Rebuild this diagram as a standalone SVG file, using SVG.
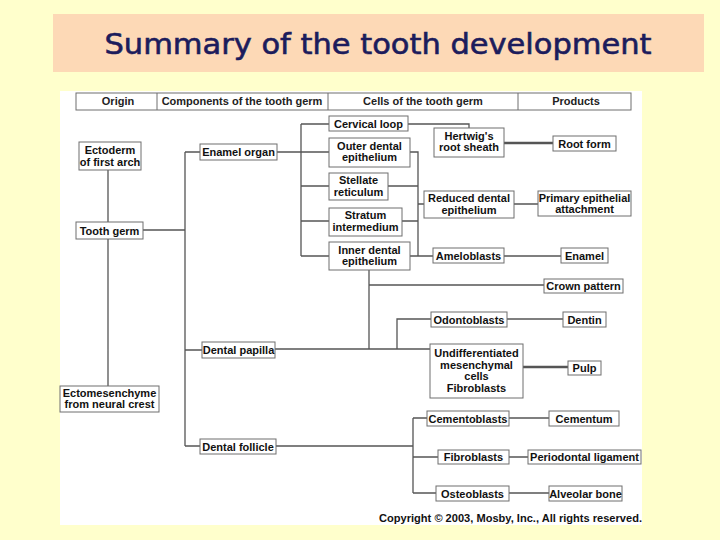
<svg xmlns="http://www.w3.org/2000/svg" width="720" height="540" viewBox="0 0 720 540">
<style>
.bx{fill:#fff;stroke:#6e6e6e;stroke-width:1}
.t{font-family:"Liberation Sans",Arial,sans-serif;font-size:11px;font-weight:bold;fill:#111;text-anchor:middle}
.h{font-family:"Liberation Sans",Arial,sans-serif;font-size:11px;font-weight:bold;fill:#222;text-anchor:middle}
.c{fill:none;stroke:#555;stroke-width:1.3}
.k{fill:none;stroke:#555;stroke-width:2.6}
</style>
<rect x="0" y="0" width="720" height="540" fill="#FFFFCC"/>
<rect x="53" y="14" width="651" height="58" fill="#FDD9B6"/>
<text x="378" y="54" font-family="'DejaVu Sans',sans-serif" font-size="28" fill="#1C1C5C" stroke="#1C1C5C" stroke-width="0.6" text-anchor="middle" textLength="547" lengthAdjust="spacingAndGlyphs">Summary of the tooth development</text>
<rect x="60" y="91" width="582" height="434" fill="#fff"/>
<g id="header">
<rect x="76" y="93" width="555" height="17" class="bx"/>
<line x1="157" y1="93" x2="157" y2="110" stroke="#6e6e6e"/>
<line x1="328" y1="93" x2="328" y2="110" stroke="#6e6e6e"/>
<line x1="518" y1="93" x2="518" y2="110" stroke="#6e6e6e"/>
<text class="h" x="118" y="105">Origin</text>
<text class="h" x="242" y="105">Components of the tooth germ</text>
<text class="h" x="423" y="105">Cells of the tooth germ</text>
<text class="h" x="576" y="105">Products</text>
</g>
<g id="connectors">
<path class="c" d="M108 170V222M108 239V386M143 230H185M185 152V446M185 152H200M185 350H202M185 446H200"/>
<path class="c" d="M277 152H329M301 124V256M301 124H329M301 186H329M301 221H329M301 256H329"/>
<path class="c" d="M410 152H418V256M388 186H418M402 221H418M410 256H433M418 204H424M408 124H469V128"/>
<path class="k" d="M504 143H553M523 367H568"/>
<path class="c" d="M514 204H538M504 256H561M369 270V349M369 285H544M275 349H430M397 349V319H431M507 319H563"/>
<path class="c" d="M276 446H413M413 418V493M413 418H427M413 457H438M413 493H436M509 418H549M509 457H528M509 493H549"/>
</g>
<g id="ectoderm"><rect class="bx" x="79" y="142" width="62" height="28"/><text class="t" x="110" y="154">Ectoderm</text><text class="t" x="110" y="166">of first arch</text></g>
<g id="tooth-germ"><rect class="bx" x="76" y="222" width="67" height="17"/><text class="t" x="109.5" y="234.5">Tooth germ</text></g>
<g id="ectomesenchyme"><rect class="bx" x="60" y="386" width="99" height="26"/><text class="t" x="109.5" y="397">Ectomesenchyme</text><text class="t" x="109.5" y="408">from neural crest</text></g>
<g id="enamel-organ"><rect class="bx" x="200" y="144" width="77" height="16"/><text class="t" x="238.5" y="156">Enamel organ</text></g>
<g id="dental-papilla"><rect class="bx" x="202" y="342" width="73" height="16"/><text class="t" x="238.5" y="354">Dental papilla</text></g>
<g id="dental-follicle"><rect class="bx" x="200" y="439" width="76" height="15"/><text class="t" x="238" y="450.5">Dental follicle</text></g>
<g id="cervical-loop"><rect class="bx" x="329" y="116" width="79" height="15"/><text class="t" x="368.5" y="127.5">Cervical loop</text></g>
<g id="outer-dental"><rect class="bx" x="329" y="138" width="81" height="29"/><text class="t" x="369.5" y="149.5">Outer dental</text><text class="t" x="369.5" y="161">epithelium</text></g>
<g id="stellate"><rect class="bx" x="329" y="173" width="59" height="27"/><text class="t" x="358.5" y="184">Stellate</text><text class="t" x="358.5" y="195.5">reticulum</text></g>
<g id="stratum"><rect class="bx" x="329" y="208" width="73" height="28"/><text class="t" x="365.5" y="219">Stratum</text><text class="t" x="365.5" y="230.5">intermedium</text></g>
<g id="inner-dental"><rect class="bx" x="329" y="242" width="81" height="28"/><text class="t" x="369.5" y="253.5">Inner dental</text><text class="t" x="369.5" y="265">epithelium</text></g>
<g id="hertwig"><rect class="bx" x="434" y="128" width="70" height="29"/><text class="t" x="469" y="139.5">Hertwig's</text><text class="t" x="469" y="151">root sheath</text></g>
<g id="reduced"><rect class="bx" x="424" y="191" width="90" height="27"/><text class="t" x="469" y="202">Reduced dental</text><text class="t" x="469" y="213.5">epithelium</text></g>
<g id="ameloblasts"><rect class="bx" x="433" y="248" width="71" height="15"/><text class="t" x="468.5" y="259.5">Ameloblasts</text></g>
<g id="odontoblasts"><rect class="bx" x="431" y="312" width="76" height="15"/><text class="t" x="469" y="323.5">Odontoblasts</text></g>
<g id="undifferentiated"><rect class="bx" x="430" y="344" width="93" height="54"/><text class="t" x="476.5" y="357">Undifferentiated</text><text class="t" x="476.5" y="368.5">mesenchymal</text><text class="t" x="476.5" y="380">cells</text><text class="t" x="476.5" y="391.5">Fibroblasts</text></g>
<g id="cementoblasts"><rect class="bx" x="427" y="411" width="82" height="15"/><text class="t" x="468" y="422.5">Cementoblasts</text></g>
<g id="fibroblasts"><rect class="bx" x="438" y="450" width="71" height="14"/><text class="t" x="473.5" y="461">Fibroblasts</text></g>
<g id="osteoblasts"><rect class="bx" x="436" y="486" width="73" height="15"/><text class="t" x="472.5" y="497.5">Osteoblasts</text></g>
<g id="root-form"><rect class="bx" x="553" y="136" width="63" height="15"/><text class="t" x="584.5" y="147.5">Root form</text></g>
<g id="primary-epithelial"><rect class="bx" x="538" y="191" width="93" height="25"/><text class="t" x="584.5" y="201.5">Primary epithelial</text><text class="t" x="584.5" y="212.5">attachment</text></g>
<g id="enamel"><rect class="bx" x="561" y="248" width="47" height="15"/><text class="t" x="584.5" y="259.5">Enamel</text></g>
<g id="crown-pattern"><rect class="bx" x="544" y="279" width="79" height="14"/><text class="t" x="583.5" y="290">Crown pattern</text></g>
<g id="dentin"><rect class="bx" x="563" y="312" width="43" height="15"/><text class="t" x="584.5" y="323.5">Dentin</text></g>
<g id="pulp"><rect class="bx" x="568" y="361" width="33" height="14"/><text class="t" x="584.5" y="372">Pulp</text></g>
<g id="cementum"><rect class="bx" x="549" y="411" width="70" height="15"/><text class="t" x="584" y="422.5">Cementum</text></g>
<g id="periodontal"><rect class="bx" x="528" y="450" width="113" height="14"/><text class="t" x="584.5" y="461">Periodontal ligament</text></g>
<g id="alveolar"><rect class="bx" x="549" y="486" width="73" height="15"/><text class="t" x="585.5" y="497.5">Alveolar bone</text></g>
<text x="379" y="522" font-family="'Liberation Sans',Arial,sans-serif" font-size="10" font-weight="bold" fill="#111" textLength="263" lengthAdjust="spacingAndGlyphs">Copyright © 2003, Mosby, Inc., All rights reserved.</text>
</svg>
